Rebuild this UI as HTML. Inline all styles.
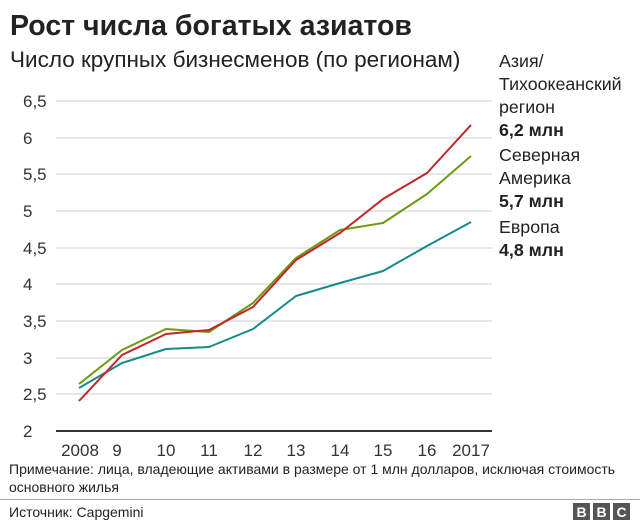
<!DOCTYPE html>
<html><head><meta charset="utf-8"><style>
body{margin:0;background:#fff;}
svg{display:block;font-family:"Liberation Sans",Arial,sans-serif;}
</style></head><body>
<svg width="640" height="523" viewBox="0 0 640 523" xmlns="http://www.w3.org/2000/svg">
<text x="10" y="35" font-size="28.5" font-weight="bold" fill="#222">Рост числа богатых азиатов</text>
<text x="10" y="67" font-size="22.5" fill="#222">Число крупных бизнесменов (по регионам)</text>
<g stroke="#ddd" stroke-width="1.5">
<line x1="56" x2="492" y1="101" y2="101"/><line x1="56" x2="492" y1="138" y2="138"/>
<line x1="56" x2="492" y1="174" y2="174"/><line x1="56" x2="492" y1="211" y2="211"/>
<line x1="56" x2="492" y1="248" y2="248"/><line x1="56" x2="492" y1="284" y2="284"/>
<line x1="56" x2="492" y1="321" y2="321"/><line x1="56" x2="492" y1="358" y2="358"/>
<line x1="56" x2="492" y1="394" y2="394"/>
</g>
<line x1="56" x2="492" y1="431" y2="431" stroke="#333" stroke-width="2"/>
<g font-size="17" fill="#333">
<text x="23" y="107">6,5</text><text x="23" y="144">6</text><text x="23" y="180">5,5</text>
<text x="23" y="217">5</text><text x="23" y="254">4,5</text><text x="23" y="290">4</text>
<text x="23" y="327">3,5</text><text x="23" y="364">3</text><text x="23" y="400">2,5</text>
<text x="23" y="437">2</text>
</g>
<g font-size="17" fill="#333" text-anchor="middle">
<text x="80" y="456">2008</text><text x="117" y="456">9</text><text x="166" y="456">10</text>
<text x="209" y="456">11</text><text x="253" y="456">12</text><text x="296" y="456">13</text>
<text x="340" y="456">14</text><text x="383" y="456">15</text><text x="427" y="456">16</text>
<text x="471" y="456">2017</text>
</g>
<g fill="none" stroke-width="2" stroke-linejoin="round">
<polyline stroke="#168a8a" points="79,388 122,363 166,349 209,347 253,329 296,296 340,283 383,271 427,246 471,222"/>
<polyline stroke="#6c9a13" points="79,384 122,350 166,329 209,332 253,303 296,258 340,230 383,223 427,194 471,156"/>
<polyline stroke="#c3252b" points="79,401 122,355 166,334 209,330 253,307 296,260 340,233 383,199 427,173 471,125"/>
</g>
<g font-size="17.8" fill="#222">
<text x="499" y="67">Азия/</text><text x="499" y="90">Тихоокеанский</text><text x="499" y="113">регион</text>
<text x="499" y="136" font-weight="bold">6,2 млн</text>
<text x="499" y="161">Северная</text><text x="499" y="184">Америка</text>
<text x="499" y="207" font-weight="bold">5,7 млн</text>
<text x="499" y="233">Европа</text>
<text x="499" y="256" font-weight="bold">4,8 млн</text>
</g>
<g font-size="14" fill="#222">
<text x="9" y="474">Примечание: лица, владеющие активами в размере от 1 млн долларов, исключая стоимость</text>
<text x="9" y="492">основного жилья</text>
<text x="9" y="517">Источник: Capgemini</text>
</g>
<line x1="0" x2="640" y1="499.5" y2="499.5" stroke="#aaa" stroke-width="1"/>
<g>
<rect x="573" y="503" width="17" height="17" fill="#555"/><rect x="593" y="503" width="17" height="17" fill="#555"/><rect x="613" y="503" width="17" height="17" fill="#555"/>
<g fill="#fff" font-size="14" font-weight="bold" text-anchor="middle">
<text x="581.5" y="517">B</text><text x="601.5" y="517">B</text><text x="621.5" y="517">C</text></g>
</g>
</svg>
</body></html>
